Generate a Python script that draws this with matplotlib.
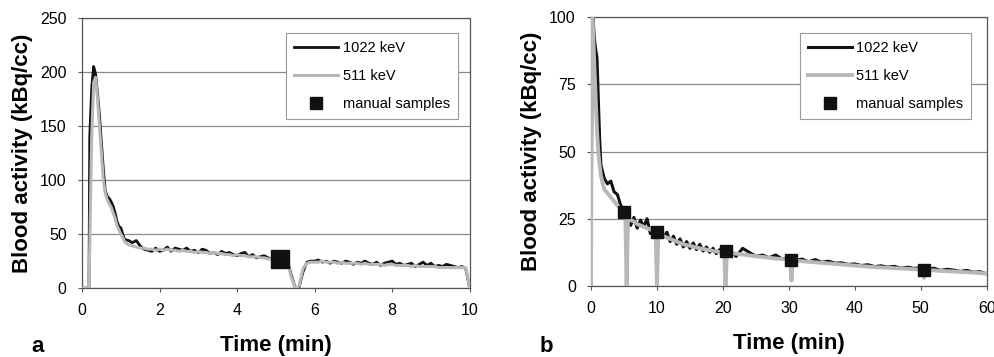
import numpy as np
import matplotlib.pyplot as plt

plt.rcParams['font.family'] = ['Liberation Sans', 'DejaVu Sans']

# ---- panel a: first 10 min ----
ta_hi = [0, 0.18, 0.2, 0.25, 0.3, 0.35, 0.4, 0.45, 0.5, 0.55, 0.6, 0.65, 0.7, 0.75, 0.8,
         0.85, 0.9, 0.95, 1.0, 1.05, 1.1, 1.2, 1.3, 1.4, 1.5]
a_1022_hi = [0, 0, 140, 185, 205, 198, 180, 160, 135, 110, 90, 85, 83, 80, 76,
             70, 62, 57, 56, 50, 45, 44, 42, 44, 39]
a_511_hi = [0, 0, 40, 140, 190, 195, 175, 150, 125, 100, 88, 82, 78, 75, 70,
            65, 58, 54, 50, 47, 43, 40, 39, 38, 37]

ta_mid = np.round(np.arange(1.6, 5.15, 0.1), 2)
a_1022_mid = [36, 35, 34, 37, 34, 35, 38, 34, 37, 36, 35, 37, 34, 35, 33, 36, 35, 32,
              33, 31, 34, 32, 33, 31, 30, 32, 33, 29, 31, 28, 29, 30, 28, 27, 26, 27]
a_511_mid = [37, 36, 36, 35, 36, 35, 36, 35, 35, 34, 35, 34, 34, 33, 34, 33, 33, 32,
             33, 32, 32, 31, 31, 30, 31, 30, 30, 29, 29, 29, 28, 28, 27, 27, 26, 26]

ta_dip = [5.2, 5.3, 5.4, 5.5, 5.6, 5.7, 5.8, 5.9]
a_1022_dip = [26, 25, 12, 0, 1, 15, 24, 25]
a_511_dip = [25, 24, 10, 0, 2, 18, 23, 24]

ta_end = np.round(np.arange(6.0, 9.85, 0.1), 2)
a_1022_end = [25, 26, 24, 25, 23, 25, 24, 23, 25, 24, 22, 24, 23, 25, 23, 22, 24, 21,
              23, 24, 25, 22, 23, 21, 22, 23, 20, 22, 24, 21, 23, 20, 21, 20, 22, 21,
              20, 19, 20]
a_511_end = [24, 24, 25, 24, 24, 24, 23, 24, 23, 23, 23, 23, 22, 23, 22, 22, 22, 22,
             21, 22, 22, 21, 21, 21, 21, 20, 21, 20, 20, 20, 20, 20, 19, 19, 19, 19,
             19, 19, 19]
ta_tail = [9.9, 9.95, 10.0]
a_1022_tail = [18, 9, 0]
a_511_tail = [19, 10, 0]

sample_a_t = [5.1]
sample_a_v = [27]

# ---- panel b: 60 min ----
tb_1022 = [0, 0.1, 0.2, 0.3, 0.5, 0.7, 0.9, 1.1, 1.3, 1.5, 2, 2.5, 3, 3.5, 4, 4.5, 5,
           5.5, 6, 6.5, 7, 7.5, 8, 8.5, 9, 9.5, 10, 10.5, 11, 11.5, 12, 12.5, 13, 13.5,
           14, 14.5, 15, 15.5, 16, 16.5, 17, 17.5, 18, 18.5, 19, 19.5, 20, 21, 22, 23,
           24, 25, 26, 27, 28, 29, 30, 31, 32, 33, 34, 35, 36, 37, 38, 39, 40, 41, 42,
           43, 44, 45, 46, 47, 48, 49, 50, 51, 52, 53, 54, 55, 56, 57, 58, 59, 60]
b_1022 = [0, 60, 95, 100, 92, 88, 85, 70, 55, 45, 40, 38, 39, 35, 34, 30, 28,
          26.5, 22.5, 25.5, 21.5, 24.5, 22, 25, 19.5, 21.5, 18.5, 20.5, 18, 20, 16.5, 18.5, 15.5, 17.5,
          14.5, 16.5, 14, 16, 13.5, 15.5, 13, 14.5, 12.5, 14, 12, 13.5, 12, 13.5, 11, 14,
          12.5, 11, 11.5, 10.5, 11.5, 10, 10.5, 9.5, 10, 9, 9.8, 8.8, 9.2, 8.5, 8.6, 8, 8.2, 7.6, 7.9,
          7.2, 7.5, 7, 7.3, 6.6, 7, 6.5, 6.8, 6.2, 6.6, 5.8, 6.2, 5.9, 5.4, 5.8, 5.1, 5.3, 4.5]

tb_511 = [0, 0.1, 0.2, 0.3, 0.5, 0.7, 0.9, 1.1, 1.3, 1.5, 2, 2.5, 3, 3.5, 4, 4.5, 5,
          5.2, 5.4, 5.6, 6, 6.5, 7, 7.5, 8, 8.5, 9, 9.5, 9.8, 10.0, 10.2, 10.5, 11,
          11.5, 12, 12.5, 13, 13.5, 14, 14.5, 15, 15.5, 16, 16.5, 17, 17.5, 18, 18.5,
          19, 19.5, 20, 20.2, 20.4, 20.6, 21, 22, 23, 24, 25, 26, 27, 28, 29, 30, 30.2,
          30.4, 30.6, 31, 32, 33, 34, 35, 36, 37, 38, 39, 40, 41, 42, 43, 44, 45, 46,
          47, 48, 49, 50, 50.3, 50.5, 50.8, 51, 52, 53, 54, 55, 56, 57, 58, 59, 60]
b_511 = [0, 90, 100, 95, 82, 70, 58, 50, 45, 41, 36, 34.5, 33, 31.5, 30, 28.5, 27,
         26, 0, 25, 24.5, 24, 23, 22.5, 22, 21.5, 21, 20.5, 20, 0, 19.5, 19, 18.5,
         18, 17.5, 17, 16.5, 16, 15.5, 15.2, 15, 14.6, 14.3, 14, 13.8, 13.5, 13.3, 13,
         12.8, 12.6, 12.5, 12.4, 0, 12.3, 12.2, 12, 11.7, 11.4, 11, 10.8, 10.5, 10.2, 10, 9.8, 9.6,
         2, 9.5, 9.4, 9.2, 9, 8.8, 8.6, 8.4, 8.2, 8, 7.8, 7.6, 7.4, 7.2, 7, 6.9, 6.8, 6.6,
         6.5, 6.4, 6.2, 6.1, 6, 3, 5.9, 5.9, 5.8, 5.6, 5.5, 5.4, 5.2, 5.1, 5, 4.8, 4.6]

sample_b_t = [5, 10, 20.5, 30.3, 50.5]
sample_b_v = [27.5, 20, 13, 9.5, 6]

black = '#111111'
grey = '#b8b8b8'

fig = plt.figure(figsize=(9.94, 3.57), dpi=100)
axa = fig.add_axes([0.0825, 0.193, 0.390, 0.757])
axb = fig.add_axes([0.5946, 0.199, 0.398, 0.753])

ta = list(ta_hi) + list(ta_mid) + ta_dip + list(ta_end) + ta_tail
a1022 = a_1022_hi + a_1022_mid + a_1022_dip + a_1022_end + a_1022_tail
a511 = a_511_hi + a_511_mid + a_511_dip + a_511_end + a_511_tail

axa.plot(ta, a1022, color=black, lw=2.0, label='1022 keV', zorder=3)
axa.plot(ta, a511, color=grey, lw=2.2, label='511 keV', zorder=4)
axa.plot(sample_a_t, sample_a_v, 's', color=black, ms=13, label='manual samples',
         zorder=5)

axb.plot(tb_1022, b_1022, color=black, lw=2.2, label='1022 keV', zorder=3)
axb.plot(tb_511, b_511, color=grey, lw=2.8, label='511 keV', zorder=4)
axb.plot(sample_b_t, sample_b_v, 's', color=black, ms=8, label='manual samples',
         zorder=5)

for ax, ylim, yt, xlim, xt, anchor, letter, lx, mscale in [
        (axa, 250, [0, 50, 100, 150, 200, 250], 10, [0, 2, 4, 6, 8, 10],
         (0.988, 0.97), 'a', 0.032, 0.62),
        (axb, 100, [0, 25, 50, 75, 100], 60, [0, 10, 20, 30, 40, 50, 60],
         (0.98, 0.968), 'b', 0.543, 1.0)]:
    ax.set_xlim(0, xlim)
    ax.set_ylim(0, ylim)
    ax.set_xticks(xt)
    ax.set_yticks(yt)
    ax.yaxis.grid(True, color='#8a8a8a', lw=0.9)
    ax.set_axisbelow(True)
    for s in ax.spines.values():
        s.set_color('#555555')
        s.set_linewidth(0.9)
    ax.tick_params(labelsize=11.5, length=3, color='#555555', pad=8)
    ax.set_xlabel('Time (min)', fontsize=16, fontweight='bold', labelpad=12)
    ax.set_ylabel('Blood activity (kBq/cc)', fontsize=16, fontweight='bold',
                  labelpad=5)
    leg = ax.legend(loc='upper right', bbox_to_anchor=anchor, fontsize=10.5,
                    handlelength=3.0, handletextpad=0.3, labelspacing=0.95,
                    borderpad=0.55, markerscale=mscale,
                    fancybox=False, framealpha=1, edgecolor='#999999')
    leg.get_frame().set_linewidth(0.8)
    fig.text(lx, 0.015, letter, fontsize=16, fontweight='bold')

fig.savefig('out.png', dpi=100)
